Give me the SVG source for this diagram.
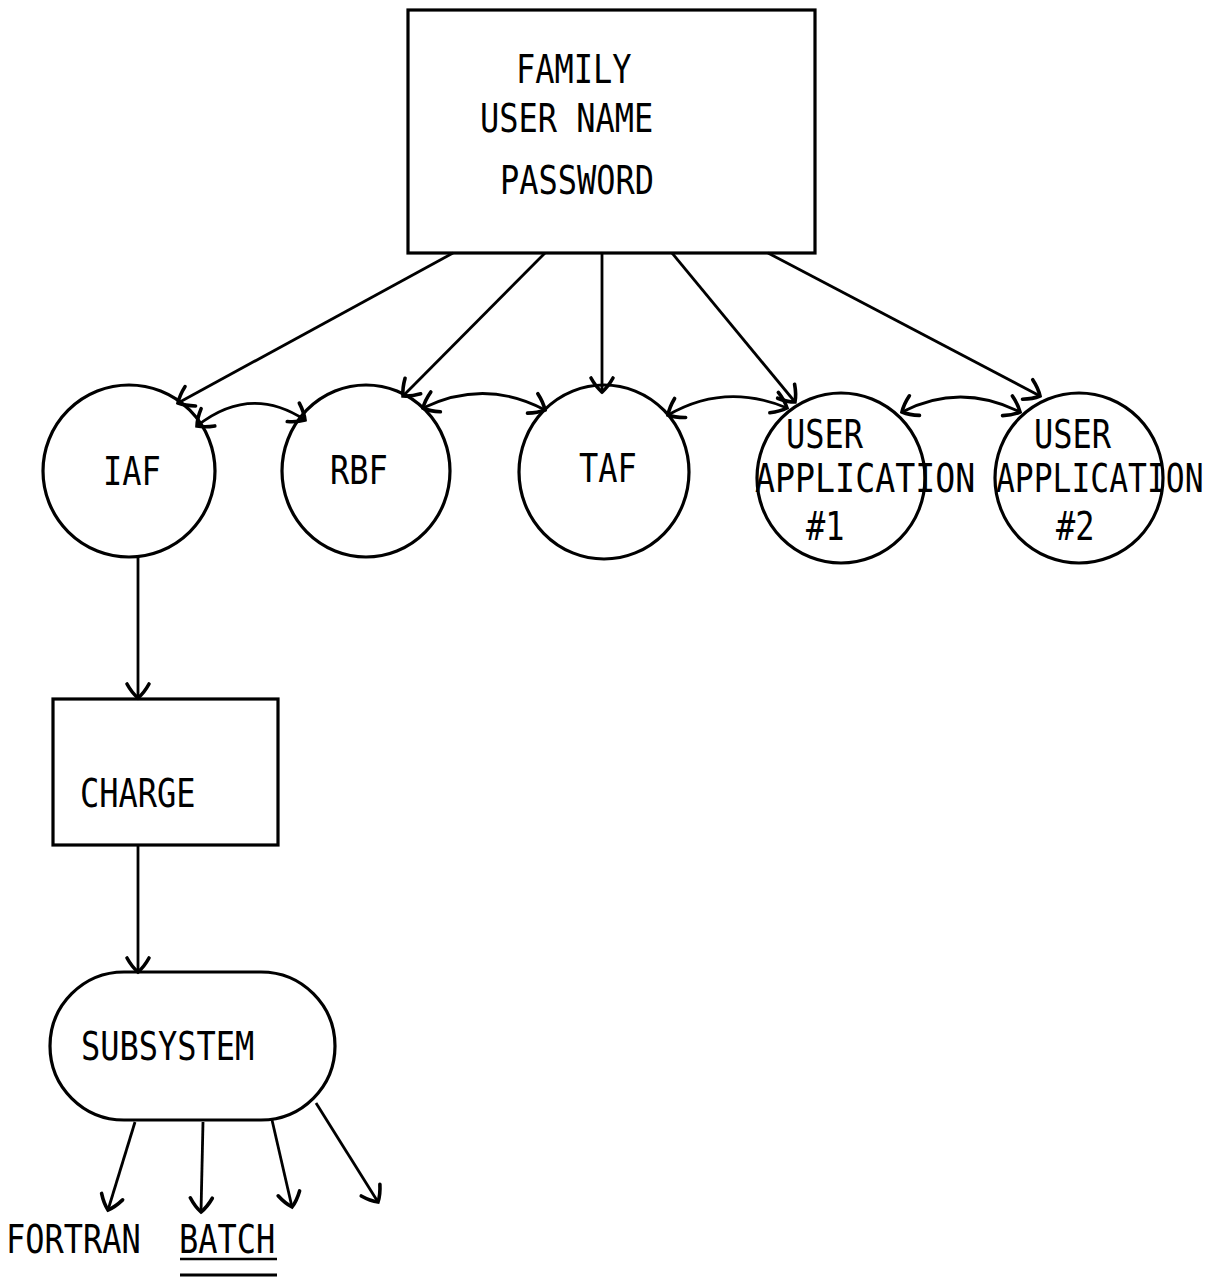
<svg xmlns="http://www.w3.org/2000/svg" width="1215" height="1278" viewBox="0 0 1215 1278">
<style>
.shape{fill:none;stroke:#000;stroke-width:3.2}
.conn{fill:none;stroke:#000;stroke-width:2.8}
.lbl{font-family:"DejaVu Sans Mono","Liberation Mono",monospace;font-size:32px;fill:#000}
</style>
<defs>
<marker id="ah" viewBox="-17 -14 21 28" refX="0" refY="0" markerWidth="21" markerHeight="28" markerUnits="userSpaceOnUse" orient="auto-start-reverse">
<path d="M -14 -11 Q -5 -6 0 0 Q -5 6 -14 11" fill="none" stroke="#000" stroke-width="3.6" stroke-linecap="round"/>
</marker>
</defs>
<rect width="1215" height="1278" fill="#fff"/>
<g id="connectors">
<path class="conn" d="M 453 253 L 178 403" marker-end="url(#ah)"/>
<path class="conn" d="M 545 253 L 403 396" marker-end="url(#ah)"/>
<path class="conn" d="M 602 253 L 602 392" marker-end="url(#ah)"/>
<path class="conn" d="M 672 253 L 795 402" marker-end="url(#ah)"/>
<path class="conn" d="M 768 253 L 1040 396" marker-end="url(#ah)"/>
<path class="conn" d="M 197 426 Q 250 384 305 420" marker-start="url(#ah)" marker-end="url(#ah)"/>
<path class="conn" d="M 423 408 Q 485 378 545 410" marker-start="url(#ah)" marker-end="url(#ah)"/>
<path class="conn" d="M 668 415 Q 725 382 787 408" marker-start="url(#ah)" marker-end="url(#ah)"/>
<path class="conn" d="M 902 412 Q 960 382 1020 412" marker-start="url(#ah)" marker-end="url(#ah)"/>
<path class="conn" d="M 138 557 L 138 698" marker-end="url(#ah)"/>
<path class="conn" d="M 138 845 L 138 972" marker-end="url(#ah)"/>
<path class="conn" d="M 135 1122 L 108 1210" marker-end="url(#ah)"/>
<path class="conn" d="M 203 1122 L 201 1212" marker-end="url(#ah)"/>
<path class="conn" d="M 272 1120 L 292 1207" marker-end="url(#ah)"/>
<path class="conn" d="M 316 1103 L 378 1202" marker-end="url(#ah)"/>
</g>
<g id="family">
<rect class="shape" x="408" y="10" width="407" height="243"/>
<text class="lbl" transform="translate(516 83) scale(1 1.2)">FAMILY</text>
<text class="lbl" transform="translate(480 132) scale(1 1.2)">USER NAME</text>
<text class="lbl" transform="translate(500 194) scale(1 1.2)">PASSWORD</text>
</g>
<g id="iaf">
<ellipse class="shape" cx="129" cy="471" rx="86" ry="86"/>
<text class="lbl" transform="translate(103 485) scale(1 1.2)">IAF</text>
</g>
<g id="rbf">
<ellipse class="shape" cx="366" cy="471" rx="84" ry="86"/>
<text class="lbl" transform="translate(330 484) scale(1 1.2)">RBF</text>
</g>
<g id="taf">
<ellipse class="shape" cx="604" cy="472" rx="85" ry="87"/>
<text class="lbl" transform="translate(579 482) scale(1 1.2)">TAF</text>
</g>
<g id="userapp1">
<ellipse class="shape" cx="841" cy="478" rx="84" ry="85"/>
<text class="lbl" transform="translate(786 448) scale(1 1.2)">USER</text>
<text class="lbl" transform="translate(755 492) scale(1.04 1.2)">APPLICATION</text>
<text class="lbl" transform="translate(806 540) scale(1 1.2)">#1</text>
</g>
<g id="userapp2">
<ellipse class="shape" cx="1079" cy="478" rx="84" ry="85"/>
<text class="lbl" transform="translate(1034 448) scale(1 1.2)">USER</text>
<text class="lbl" transform="translate(996 492) scale(0.98 1.2)">APPLICATION</text>
<text class="lbl" transform="translate(1056 540) scale(1 1.2)">#2</text>
</g>
<g id="charge">
<rect class="shape" x="53" y="699" width="225" height="146"/>
<text class="lbl" transform="translate(80 807) scale(1 1.2)">CHARGE</text>
</g>
<g id="subsystem">
<rect class="shape" x="50" y="972" width="285" height="148" rx="74" ry="74"/>
<text class="lbl" transform="translate(81 1060) scale(1 1.2)">SUBSYSTEM</text>
</g>
<g id="outputs">
<text class="lbl" transform="translate(6 1253) scale(1 1.2)">FORTRAN</text>
<text class="lbl" transform="translate(179 1253) scale(1 1.2)">BATCH</text>
<line x1="180" y1="1259" x2="277" y2="1259" stroke="#000" stroke-width="2.5"/>
<line x1="180" y1="1275" x2="277" y2="1275" stroke="#000" stroke-width="3"/>
</g>
</svg>
